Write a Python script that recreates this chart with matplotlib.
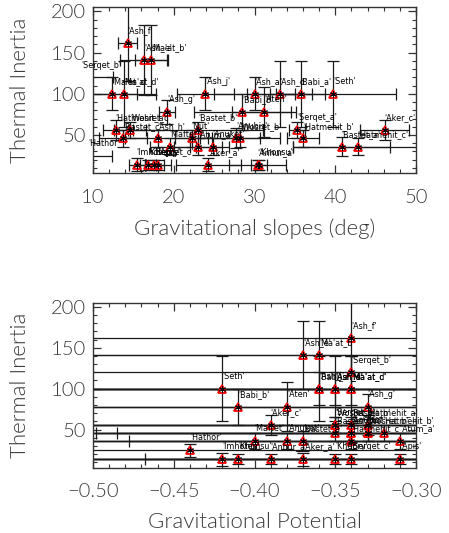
import matplotlib
matplotlib.use("Agg")
import matplotlib.pyplot as plt
from matplotlib.ticker import MultipleLocator, FuncFormatter
import numpy as np

names = ["Ash_f", "Ash_e", "Ma'at_b", "Serqet_b", "Ma'at_c", "Ma'at_d", "Ash_j", "Ash_a",
         "Ash_d", "Babi_a", "Seth", "Babi_b", "Aten", "Ash_g", "Hatmehit_a", "Wosret_c",
         "Bastet_b", "Serqet_a", "Aker_c", "Bastet_c", "Ash_h", "Nut", "Anubis", "Wosret_b",
         "Hatmehit_b", "Maftet", "Atum_a", "Anuket", "Bastet_a", "Hatmehit_c", "Hathor",
         "Imhotep", "Khepry", "Serqet_c", "Apis", "Aker_a", "Anhur_a", "Khonsu"]
slope = [14.3, 16.3, 17.2, 8.5, 12.4, 13.8, 23.9, 30.0,
         33.1, 35.7, 39.7, 28.5, 31.2, 19.2, 12.8, 14.6,
         23.0, 35.3, 46.1, 13.7, 18.0, 22.2, 27.7, 28.2,
         36.0, 19.5, 23.0, 24.8, 40.8, 42.8, 9.4,
         15.4, 16.8, 17.6, 18.1, 24.3, 30.4, 30.6]
slope_err = [1.2, 3.0, 2.0, 4.0, 3.0, 4.0, 3.5, 5.0,
             4.0, 3.0, 7.8, 6.0, 4.0, 1.0, 1.5, 2.0,
             8.0, 1.0, 3.0, 3.0, 4.0, 2.0, 3.0, 5.0,
             2.0, 2.5, 3.0, 2.0, 6.0, 8.0, 3.0,
             1.0, 1.0, 1.2, 1.5, 4.0, 3.5, 1.0]
potential = [-0.34, -0.37, -0.36, -0.34, -0.34, -0.34, -0.36, -0.35,
             -0.35, -0.36, -0.42, -0.41, -0.38, -0.33, -0.33, -0.35,
             -0.34, -0.35, -0.39, -0.35, -0.34, -0.33, -0.34, -0.33,
             -0.32, -0.40, -0.31, -0.38, -0.37, -0.34, -0.44,
             -0.42, -0.35, -0.34, -0.31, -0.37, -0.39, -0.41]
potential_err = [0.25, 0.25, 0.25, 0.25, 0.25, 0.25, 0.2, 0.25,
                 0.25, 0.25, 0.25, 0.25, 0.25, 0.25, 0.25, 0.25,
                 0.25, 0.25, 0.25, 0.135, 0.25, 0.168, 0.25, 0.25,
                 0.25, 0.25, 0.168, 0.25, 0.25, 0.25, 0.25,
                 0.25, 0.25, 0.25, 0.158, 0.25, 0.25, 0.25]
inertia = [162, 141, 141, 120, 100, 100, 100, 100,
           100, 100, 100, 78, 78, 78, 56, 56,
           56, 56, 56, 46, 46, 46, 46, 46,
           46, 36, 36, 36, 36, 36, 25,
           14, 14, 14, 14, 14, 14, 14]
inertia_err = [46, 42, 42, 20, 20, 40, 20, 20,
               40, 40, 40, 22, 30, 15, 12, 10,
               10, 10, 12, 10, 10, 10, 12, 10,
               10, 10, 10, 10, 12, 10, 8,
               8, 6, 6, 6, 8, 6, 6]

W, H = 449, 533
fig = plt.figure(figsize=(W / 100, H / 100), dpi=100)
plt.rcParams['font.family'] = ['DejaVu Sans']

TICKFONT = dict(family=['Lato', 'DejaVu Sans'], weight=300, size=14.5)
LABFONT = dict(family=['Lato', 'DejaVu Sans'], weight=300, size=16)

def px_axes(left, top, right, bottom):
    return fig.add_axes([left / W, 1 - bottom / H, (right - left) / W, (bottom - top) / H])

ax1 = px_axes(93, 7.3, 416, 173.3)
ax2 = px_axes(93, 302.7, 416, 467.7)

txtcol = '#3a3a3a'
linecol = '#1a1a1a'

def draw(ax, x, xerr, xlabel, xlim, xmaj, xmin, fmt):
    ax.errorbar(x, inertia, xerr=xerr, yerr=inertia_err, fmt='none',
                ecolor=linecol, elinewidth=0.9, capsize=4.5, capthick=0.9, zorder=2)
    ax.plot(x, inertia, linestyle='none', marker='^', markersize=5.5,
            markerfacecolor='none', markeredgecolor='red', markeredgewidth=1.3, zorder=3)
    ax.plot(x, inertia, linestyle='none', marker=(6, 2, 0), markersize=5,
            color='black', markeredgewidth=0.7, zorder=4)
    for xi, yi, n in zip(x, inertia, names):
        ax.annotate("'" + n + "'", (xi, yi), xytext=(0, 5.5), textcoords='offset points',
                    fontsize=5.8, color='black', ha='left', va='bottom',
                    annotation_clip=False, clip_on=False, zorder=5)
    ax.set_xlim(*xlim)
    ax.set_ylim(3.5, 205)
    ax.xaxis.set_major_locator(MultipleLocator(xmaj))
    ax.xaxis.set_minor_locator(MultipleLocator(xmin))
    ax.xaxis.set_major_formatter(FuncFormatter(fmt))
    ax.yaxis.set_major_locator(MultipleLocator(50))
    ax.yaxis.set_minor_locator(MultipleLocator(10))
    ax.tick_params(which='both', direction='in', top=True, right=True, colors='#333333',
                   labelcolor=txtcol)
    ax.tick_params(which='major', length=6, width=0.9)
    ax.tick_params(which='minor', length=3, width=0.8)
    ax.tick_params(axis='x', pad=11)
    ax.tick_params(axis='y', pad=5)
    for s in ax.spines.values():
        s.set_color('#333333')
        s.set_linewidth(1.0)
    ax.set_xlabel(xlabel, color=txtcol, labelpad=9, **LABFONT)
    ax.set_ylabel('Thermal Inertia', color=txtcol, labelpad=15, **LABFONT)

draw(ax1, slope, slope_err, 'Gravitational slopes (deg)', (10, 50), 10, 2,
     lambda v, p: '%d' % round(v))
draw(ax2, potential, potential_err, 'Gravitational Potential', (-0.50, -0.30), 0.05, 0.01,
     lambda v, p: ('%.2f' % v).replace('-', '\u2212'))

for ax in (ax1, ax2):
    for lab in ax.get_xticklabels() + ax.get_yticklabels():
        lab.set_fontfamily(TICKFONT['family'])
        lab.set_fontweight(TICKFONT['weight'])
        lab.set_fontsize(TICKFONT['size'])

fig.savefig('out.png', dpi=100)
